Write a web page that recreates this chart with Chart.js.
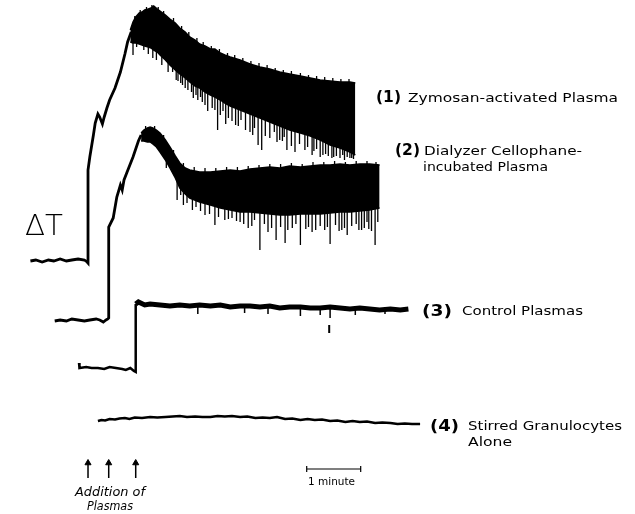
<!DOCTYPE html>
<html>
<head>
<meta charset="utf-8">
<script src="https://cdn.jsdelivr.net/npm/chart.js@4.4.1/dist/chart.umd.min.js"></script>
<style>
  body { margin: 0; background: #fff; }
  canvas { display: block; }
</style>
</head>
<body>
<canvas id="myChart" width="635" height="514"></canvas>
<script>
// time in seconds (0 = first addition), delta T in arbitrary units

// (1) zymosan-activated plasma: baseline and rise
var zymoTime = [-64, -58, -51, -44, -38, -31, -24, -18, -11, -4, -1, 0, 0, 2, 6, 8, 11, 13, 16, 18, 21, 24, 30, 36, 41, 44, 48];
var zymoLevel = [23.9, 24.0, 23.8, 24.0, 23.9, 24.1, 23.9, 24.0, 24.1, 24.0, 23.8, 23.7, 33.0, 34.3, 36.5, 37.7, 38.6, 38.3, 37.6, 38.3, 39.2, 40.0, 41.2, 42.8, 44.6, 45.8, 46.8];
// noisy part: upper and lower edge of the band
var zymoBandTime = [47, 50, 53, 57, 60, 63, 67, 70, 73, 77, 80, 86, 91, 97, 102, 108, 113, 119, 124, 130, 136, 141, 147, 152, 158, 169, 180, 191, 202, 213, 224, 236, 247, 258, 269, 280, 291, 297];
var zymoBandTop = [47.0, 47.8, 48.3, 48.7, 48.8, 49.0, 49.1, 49.2, 49.4, 49.1, 48.9, 48.5, 48.1, 47.7, 47.2, 46.8, 46.3, 46.0, 45.6, 45.4, 45.1, 45.1, 44.7, 44.5, 44.3, 44.0, 43.6, 43.3, 43.1, 42.8, 42.6, 42.4, 42.2, 42.0, 41.9, 41.8, 41.8, 41.7];
var zymoBandBottom = [45.8, 45.7, 45.7, 45.6, 45.5, 45.4, 45.3, 45.2, 45.0, 44.8, 44.5, 44.0, 43.5, 43.0, 42.6, 42.2, 41.8, 41.4, 41.2, 40.8, 40.5, 40.3, 40.0, 39.7, 39.4, 39.0, 38.6, 38.2, 37.8, 37.4, 37.0, 36.7, 36.4, 36.0, 35.5, 35.2, 34.8, 34.5];
// downward spikes below the band
var zymoSpikeTime = [50, 54, 62, 67, 72, 76, 82, 89, 94, 98, 100, 103, 105, 108, 111, 115, 117, 120, 122, 125, 127, 130, 133, 138, 141, 144, 147, 150, 153, 156, 160, 164, 167, 170, 175, 180, 183, 185, 189, 193, 197, 202, 207, 210, 213, 216, 218, 221, 226, 230, 235, 241, 244, 249, 251, 254, 258, 261, 264, 267, 271, 273, 276, 280, 283, 285, 288, 291, 293, 295];
var zymoSpikeTip = [44.5, 45.3, 45.0, 44.6, 44.2, 44.0, 43.5, 42.8, 42.8, 42.0, 41.9, 41.7, 41.5, 41.2, 41.0, 40.8, 40.2, 40.5, 40.0, 40.3, 39.8, 39.5, 38.9, 39.2, 39.0, 37.0, 38.5, 38.9, 37.6, 38.2, 37.9, 37.5, 37.4, 38.0, 37.0, 36.8, 36.5, 37.2, 35.5, 35.0, 36.4, 36.2, 36.8, 35.8, 36.0, 35.9, 36.3, 35.0, 35.4, 34.8, 35.6, 35.0, 35.3, 34.5, 34.9, 35.1, 34.3, 34.5, 34.6, 34.4, 34.2, 34.3, 34.4, 34.2, 34.5, 34.0, 34.3, 34.2, 34.2, 34.1];
// short noise above the band
var zymoTopSpikeTime = [52, 58, 65, 71, 78, 84, 95, 104, 112, 121, 128, 137, 146, 155, 163, 172, 181, 190, 199, 208, 217, 226, 236, 245, 254, 263, 272, 281, 290];
var zymoTopSpikeTip = [48.4, 49.0, 49.3, 49.5, 49.3, 48.9, 48.2, 47.4, 46.8, 46.2, 45.8, 45.4, 45.1, 44.7, 44.5, 44.2, 43.9, 43.7, 43.5, 43.2, 43.0, 42.9, 42.7, 42.5, 42.4, 42.3, 42.2, 42.1, 42.1];

// (2) dialyzer cellophane-incubated plasma
var dialTime = [-37, -31, -24, -18, -11, -4, 2, 9, 13, 17, 20, 22, 23, 23, 28, 32, 36, 38, 40, 43, 50, 56, 59];
var dialLevel = [17.9, 18.0, 17.9, 18.1, 18.0, 17.9, 18.0, 18.1, 18.0, 17.8, 18.0, 18.1, 18.2, 27.3, 28.2, 30.3, 31.5, 31.0, 32.0, 32.7, 34.3, 35.9, 36.5];
var dialBandTime = [59, 62, 66, 69, 72, 76, 80, 86, 91, 97, 102, 108, 113, 124, 136, 147, 158, 169, 180, 191, 202, 213, 224, 236, 247, 258, 269, 280, 291, 302, 313, 324];
var dialBandTop = [36.7, 37.0, 37.2, 37.3, 37.2, 37.0, 36.7, 36.0, 35.3, 34.4, 33.7, 33.2, 33.0, 32.8, 32.8, 32.9, 33.0, 32.9, 33.1, 33.2, 33.3, 33.2, 33.4, 33.3, 33.4, 33.5, 33.5, 33.6, 33.5, 33.6, 33.6, 33.5];
var dialBandBottom = [35.9, 35.9, 35.8, 35.8, 35.6, 35.3, 34.8, 34.0, 33.2, 32.2, 31.2, 30.6, 30.2, 29.8, 29.5, 29.2, 29.0, 28.8, 28.8, 28.7, 28.6, 28.5, 28.5, 28.6, 28.6, 28.6, 28.7, 28.8, 28.8, 28.9, 29.0, 29.2];
var dialSpikeTime = [87, 99, 103, 106, 110, 116, 120, 125, 130, 135, 141, 145, 152, 156, 160, 165, 169, 173, 178, 182, 185, 191, 196, 200, 204, 209, 214, 219, 222, 227, 231, 236, 242, 245, 249, 253, 258, 263, 266, 269, 275, 279, 282, 285, 288, 293, 298, 301, 304, 307, 310, 312, 315, 319, 322];
var dialSpikeTip = [33.2, 30.0, 30.5, 29.5, 29.7, 29.0, 29.3, 28.9, 28.5, 28.6, 27.5, 28.3, 28.0, 28.1, 28.2, 27.9, 27.8, 27.6, 27.2, 27.4, 28.0, 25.0, 27.6, 26.8, 27.2, 26.0, 27.3, 25.7, 27.0, 27.2, 27.6, 25.5, 27.1, 27.3, 26.8, 27.0, 27.4, 27.0, 27.3, 25.6, 27.5, 26.9, 27.0, 27.2, 26.5, 27.4, 27.6, 27.0, 27.0, 27.2, 27.8, 27.1, 26.9, 25.5, 27.8];
var dialTopSpikeTime = [64, 74, 84, 95, 106, 118, 130, 142, 154, 166, 178, 190, 202, 214, 226, 238, 250, 262, 274, 286, 298, 310, 320];
var dialTopSpikeTip = [37.4, 37.4, 36.5, 35.0, 33.7, 33.3, 33.2, 33.2, 33.3, 33.3, 33.4, 33.5, 33.6, 33.6, 33.7, 33.6, 33.8, 33.8, 33.9, 33.8, 33.9, 33.9, 33.8];

// (3) control plasmas
var ctrlBaseTime = [-10, -10, -9, -2, 4, 11, 18, 24, 31, 38, 42, 47, 51, 53, 53];
var ctrlBaseLevel = [13.7, 13.2, 13.2, 13.3, 13.2, 13.2, 13.1, 13.3, 13.2, 13.1, 13.0, 13.2, 12.9, 12.8, 19.6];
var ctrlTime = [53, 56, 63, 69, 80, 91, 102, 113, 124, 136, 147, 158, 169, 180, 191, 202, 213, 224, 236, 247, 258, 269, 280, 291, 302, 313, 324, 336, 347, 356];
var ctrlLevel = [19.6, 19.8, 19.5, 19.6, 19.5, 19.4, 19.5, 19.4, 19.5, 19.4, 19.5, 19.3, 19.4, 19.4, 19.3, 19.4, 19.2, 19.3, 19.3, 19.2, 19.2, 19.3, 19.2, 19.1, 19.2, 19.1, 19.0, 19.1, 19.0, 19.1];
var ctrlDipTime = [122, 174, 200, 236, 258, 269, 297, 330];
var ctrlDipTip = [18.6, 18.7, 18.6, 18.4, 18.5, 18.2, 18.5, 18.6];
var ctrlMarkTime = 268;
var ctrlMarkLevel = [17.5, 16.7];

// (4) stirred granulocytes alone
var granTime = [11, 15, 19, 24, 30, 35, 41, 46, 52, 60, 69, 77, 86, 94, 102, 110, 119, 127, 136, 144, 152, 160, 169, 177, 186, 194, 202, 210, 219, 227, 236, 244, 252, 260, 269, 277, 286, 294, 302, 310, 319, 327, 336, 344, 352, 360, 369];
var granLevel = [7.9, 8.0, 7.95, 8.1, 8.05, 8.15, 8.2, 8.1, 8.25, 8.2, 8.3, 8.25, 8.3, 8.35, 8.4, 8.3, 8.35, 8.3, 8.3, 8.4, 8.35, 8.4, 8.3, 8.35, 8.2, 8.25, 8.2, 8.3, 8.1, 8.15, 8.0, 8.1, 8.0, 8.05, 7.9, 7.95, 7.8, 7.9, 7.8, 7.85, 7.7, 7.75, 7.7, 7.6, 7.65, 7.6, 7.6];

// arrows (addition of plasmas) and the 1 minute bar
var additionTime = [0, 23, 53];
var arrowLevel = [2.2, 3.6];
var minuteBar = [243, 303];
var minuteBarLevel = 3.1;

function pts(xs, ys) {
  return xs.map(function (x, i) { return { x: x, y: ys[i] }; });
}

function interp(xs, ys, x) {
  for (var i = 1; i < xs.length; i++) {
    if (x <= xs[i]) {
      var f = (x - xs[i - 1]) / (xs[i] - xs[i - 1]);
      return ys[i - 1] + f * (ys[i] - ys[i - 1]);
    }
  }
  return ys[ys.length - 1];
}

// vertical strokes from the edge of the band (a bit inside it) to the tip
function spikes(times, tips, baseTimes, baseVals, inward) {
  var out = [];
  times.forEach(function (t, i) {
    var b = interp(baseTimes, baseVals, t) + inward;
    out.push({ x: t, y: b }, { x: t, y: tips[i] }, { x: t, y: null });
  });
  return out;
}

var arrowShafts = [];
additionTime.forEach(function (t) {
  arrowShafts.push({ x: t, y: arrowLevel[0] }, { x: t, y: arrowLevel[1] }, { x: t, y: null });
});
var arrowHeads = additionTime.map(function (t) { return { x: t, y: arrowLevel[1] + 0.1 }; });

var bar = [
  { x: minuteBar[0], y: minuteBarLevel - 0.3 }, { x: minuteBar[0], y: minuteBarLevel + 0.3 }, { x: minuteBar[0], y: null },
  { x: minuteBar[0], y: minuteBarLevel }, { x: minuteBar[1], y: minuteBarLevel }, { x: minuteBar[1], y: null },
  { x: minuteBar[1], y: minuteBarLevel - 0.3 }, { x: minuteBar[1], y: minuteBarLevel + 0.3 }
];

function trace(data, width) {
  return { data: data, borderColor: "black", borderWidth: width, fill: false, spanGaps: false, pointRadius: 0 };
}

// labels drawn on the canvas
var textos = {
  id: "textos",
  afterDraw: function (chart) {
    var c = chart.ctx;
    c.save();
    c.fillStyle = "black";
    c.textBaseline = "middle";
    function fit(txt, x, y, font, w) {
      c.font = font;
      var m = c.measureText(txt).width;
      c.save();
      c.translate(x, y);
      if (w) c.scale(w / m, 1);
      c.fillText(txt, 0, 0);
      c.restore();
    }
    var f = '"DejaVu Sans", sans-serif';
    fit("\u0394T", 25, 228, "200 28px " + f, 38);
    fit("(1)", 376, 98, "bold 15px " + f, 25);
    fit("Zymosan-activated Plasma", 408, 99, "13px " + f, 210);
    fit("(2)", 395, 151, "bold 15px " + f, 25);
    fit("Dialyzer Cellophane-", 424, 152, "13px " + f, 158);
    fit("incubated Plasma", 423, 168, "13px " + f, 125);
    fit("(3)", 422, 312, "bold 15px " + f, 30);
    fit("Control Plasmas", 462, 312, "13px " + f, 121);
    fit("(4)", 430, 427, "bold 15px " + f, 29);
    fit("Stirred Granulocytes", 468, 427, "13px " + f, 154);
    fit("Alone", 468, 443, "13px " + f, 44);
    fit("Addition of", 75, 493, "italic 12px " + f, 70);
    fit("Plasmas", 87, 507, "italic 12px " + f, 46);
    fit("1 minute", 308, 482, "10px " + f, 47);
    c.restore();
  }
};

var ctx = document.getElementById("myChart");
var myChart = new Chart(ctx, {
  type: "line",
  data: {
    datasets: [
      trace(pts(zymoTime, zymoLevel), 2.8),
      trace(pts(zymoBandTime, zymoBandTop), 1.5),
      Object.assign(trace(pts(zymoBandTime, zymoBandBottom), 1.5), { fill: "-1", backgroundColor: "black" }),
      trace(spikes(zymoSpikeTime, zymoSpikeTip, zymoBandTime, zymoBandBottom, 0.3), 1.3),
      trace(spikes(zymoTopSpikeTime, zymoTopSpikeTip, zymoBandTime, zymoBandTop, -0.3), 1.3),
      trace(pts(dialTime, dialLevel), 2.8),
      trace(pts(dialBandTime, dialBandTop), 1.5),
      Object.assign(trace(pts(dialBandTime, dialBandBottom), 1.5), { fill: "-1", backgroundColor: "black" }),
      trace(spikes(dialSpikeTime, dialSpikeTip, dialBandTime, dialBandBottom, 0.3), 1.3),
      trace(spikes(dialTopSpikeTime, dialTopSpikeTip, dialBandTime, dialBandTop, -0.3), 1.3),
      trace(pts(ctrlBaseTime, ctrlBaseLevel), 2.5),
      trace(pts(ctrlTime, ctrlLevel), 5),
      trace(spikes(ctrlDipTime, ctrlDipTip, ctrlTime, ctrlLevel, 0), 1.5),
      trace([{ x: ctrlMarkTime, y: ctrlMarkLevel[0] }, { x: ctrlMarkTime, y: ctrlMarkLevel[1] }], 2),
      trace(pts(granTime, granLevel), 2.5),
      trace(arrowShafts, 1.5),
      {
        data: arrowHeads, showLine: false, pointStyle: "triangle", pointRadius: 3.5,
        pointBackgroundColor: "black", pointBorderColor: "black", pointBorderWidth: 1
      },
      trace(bar, 1.2)
    ]
  },
  options: {
    responsive: false,
    animation: false,
    layout: { padding: 0, autoPadding: false },
    plugins: { legend: { display: false }, tooltip: { enabled: false } },
    scales: {
      x: { type: "linear", min: -97.8, max: 607.8, display: false },
      y: { type: "linear", min: -1.4, max: 50, display: false }
    }
  },
  plugins: [textos]
});
</script>
</body>
</html>
